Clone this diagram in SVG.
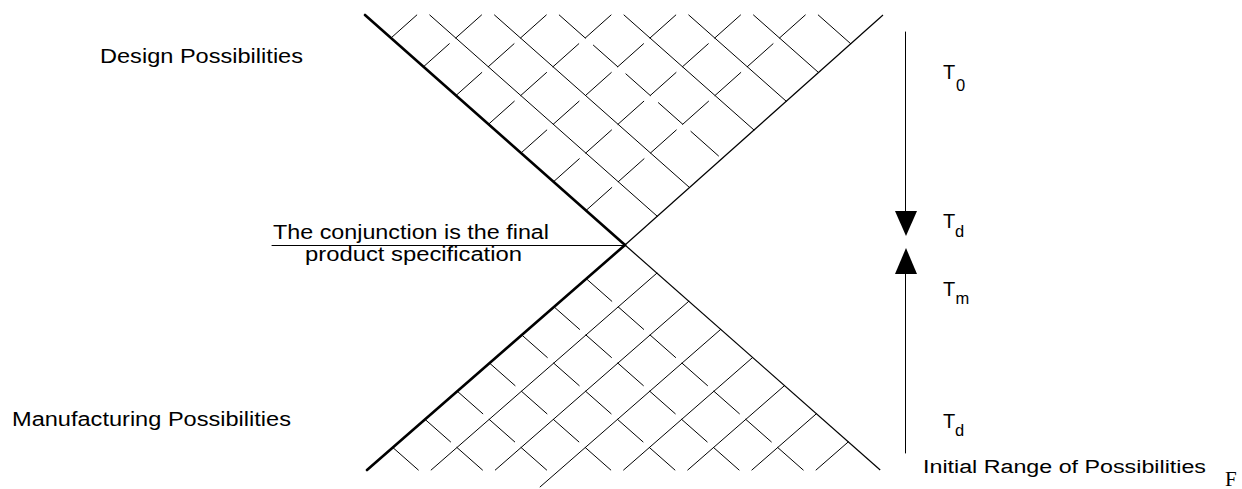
<svg xmlns="http://www.w3.org/2000/svg" width="1242" height="489" viewBox="0 0 1242 489">
<defs>
<style>
.bg{fill:#fff}
.ln{stroke:#000;stroke-width:1;fill:none;stroke-linecap:round}
.edge{stroke:#000;stroke-width:1.2;fill:none}
.thick{stroke:#000;stroke-width:2.6;fill:none;stroke-linecap:round}
.lbl{font-family:"Liberation Sans",Arial,sans-serif;font-size:20px;fill:#000}
.sub{font-family:"Liberation Sans",Arial,sans-serif;font-size:16.5px;fill:#000}
.serif{font-family:"Liberation Serif","Times New Roman",serif;font-size:21px;fill:#000}
.head{fill:#000;stroke:none}
</style>
</defs>
<rect class="bg" x="0" y="0" width="1242" height="489"/>

<g id="design-cone">
<path class="thick" d="M365,15L625,245"/>
<path class="edge" d="M625,245L883,15"/>
<path class="ln" d="M429.75,15L657.25,216.25M494.5,15L689.5,187.5M624,15L754,130M688.75,15L786.25,101.25M753.5,15L818.5,72.5M818.25,15L850.75,43.75"/>
<path class="ln" d="M559.25,15L585.25,38M593.4,45.2L617.75,66.75M625.9,73.9L650.25,95.5M658.4,102.7L682.75,124.25M690.9,131.4L718.5,155.9"/>
<path class="ln" d="M586,210.5l25.8-23M553.5,181.75l25.8-23M521,153l25.8-23M488.5,124.25l25.8-23M456,95.5l25.8-23M423.5,66.75l25.8-23M391,38l25.8-23
M618.25,181.75l25.8-23M585.75,153l25.8-23M553.25,124.25l25.8-23M520.75,95.5l25.8-23M488.25,66.75l25.8-23M455.75,38l25.8-23
M650.5,153l25.8-23M618,124.25l25.8-23M585.5,95.5l25.8-23M553,66.75l25.8-23M520.5,38l25.8-23
M682.75,124.25l25.8-23M650.25,95.5l25.8-23M617.75,66.75l25.8-23M585.25,38l25.8-23
M715,95.5l25.8-23M682.5,66.75l25.8-23M650,38l25.8-23
M747.25,66.75l25.8-23M714.75,38l25.8-23
M779.5,38l25.8-23"/>
</g>

<g id="manufacturing-cone">
<path class="thick" d="M625,245L367,470"/>
<path class="edge" d="M625,245L880.2,470"/>
<path class="ln" d="M431.15,470L656.9,273.125M495.3,470L688.8,301.25M540.1,486.9L720.7,329.375M623.6,470L752.6,357.5M687.75,470L784.5,385.625M751.9,470L816.4,413.75M816.05,470L848.3,441.875"/>
<path class="ln" d="M586.3,278.75l25.52,22.5M554.05,306.875l25.52,22.5M521.8,335l25.52,22.5M489.55,363.125l25.52,22.5M457.3,391.25l25.52,22.5M425.05,419.375l25.52,22.5M392.8,447.5l25.52,22.5
M618.2,306.875l25.52,22.5M585.95,335l25.52,22.5M553.7,363.125l25.52,22.5M521.45,391.25l25.52,22.5M489.2,419.375l25.52,22.5M456.95,447.5l25.52,22.5
M650.1,335l25.52,22.5M617.85,363.125l25.52,22.5M585.6,391.25l25.52,22.5M553.35,419.375l25.52,22.5M521.1,447.5l25.52,22.5
M682,363.125l25.52,22.5M649.75,391.25l25.52,22.5M617.5,419.375l25.52,22.5M585.25,447.5l25.52,22.5
M713.9,391.25l25.52,22.5M681.65,419.375l25.52,22.5M649.4,447.5l25.52,22.5
M745.8,419.375l25.52,22.5M713.55,447.5l25.52,22.5
M777.7,447.5l25.52,22.5"/>
</g>

<g id="connectors">
<path class="ln" d="M272,245.5L624,245.5"/>
<path class="ln" d="M905.5,32L905.5,212"/>
<polygon class="head" points="895,211 917,211 906,236"/>
<polygon class="head" points="895,274 917,274 906,248"/>
<path class="ln" d="M905.5,273L905.5,453"/>
</g>

<g id="label-design"><text class="lbl" x="100" y="63" textLength="203" lengthAdjust="spacingAndGlyphs">Design Possibilities</text></g>
<g id="label-manufacturing"><text class="lbl" x="12" y="426" textLength="279" lengthAdjust="spacingAndGlyphs">Manufacturing Possibilities</text></g>
<g id="label-conjunction">
<text class="lbl" x="273" y="239" textLength="276" lengthAdjust="spacingAndGlyphs">The conjunction is the final</text>
<text class="lbl" x="305" y="261" textLength="217" lengthAdjust="spacingAndGlyphs">product specification</text>
</g>
<g id="label-t0"><text class="lbl" x="943" y="79">T</text><text class="sub" x="956" y="91">0</text></g>
<g id="label-td1"><text class="lbl" x="943" y="228">T</text><text class="sub" x="955" y="237">d</text></g>
<g id="label-tm"><text class="lbl" x="943" y="296">T</text><text class="sub" x="955.5" y="304">m</text></g>
<g id="label-td2"><text class="lbl" x="943" y="428">T</text><text class="sub" x="955" y="436">d</text></g>
<g id="label-initial"><text class="lbl" style="font-size:18px" x="923" y="473" textLength="283" lengthAdjust="spacingAndGlyphs">Initial Range of Possibilities</text></g>
<g id="label-f"><text class="serif" x="1225" y="486">F</text></g>
</svg>
